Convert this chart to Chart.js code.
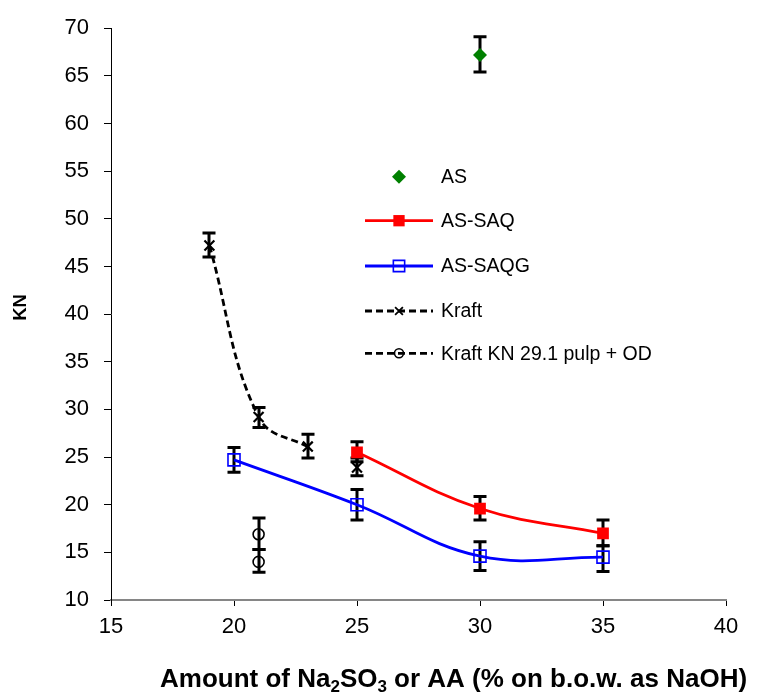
<!DOCTYPE html>
<html><head><meta charset="utf-8">
<script src="https://cdn.jsdelivr.net/npm/chart.js@4"></script>
<style>html,body{margin:0;padding:0;background:#fff}#wrap{width:764px;height:692px;position:relative}</style>
</head><body><div id="wrap"><canvas id="c" width="764" height="692"></canvas></div>
<script>
// ---- data ----
const xTickValues = [15, 20, 25, 30, 35, 40];
const yTickValues = [10, 15, 20, 25, 30, 35, 40, 45, 50, 55, 60, 65, 70];

const seriesLabels = ['AS', 'AS-SAQ', 'AS-SAQG', 'Kraft', 'Kraft KN 29.1 pulp + OD'];

const asX = [30];
const asY = [67.2];
const asLo = [65.4];
const asHi = [69.1];

const saqX = [25, 30, 35];
const saqY = [25.5, 19.6, 17.0];
const saqLo = [24.5, 18.4, 15.7];
const saqHi = [26.6, 20.85, 18.4];

const saqgX = [20, 25, 30, 35];
const saqgY = [24.7, 20.0, 14.6, 14.5];
const saqgLo = [23.4, 18.4, 13.1, 13.0];
const saqgHi = [26.0, 21.6, 16.1, 15.7];

const kraftX = [19, 21, 23, 25];
const kraftY = [47.2, 29.2, 26.1, 23.9];
const kraftLo = [46.0, 28.1, 24.9, 23.05];
const kraftHi = [48.5, 30.2, 27.4, 24.9];

const odX = [21, 21];
const odY = [16.9, 14.0];
const odLo = [15.3, 12.9];
const odHi = [18.6, 15.3];

const yTitle = 'KN';
const xTitleParts = [
  {t: 'Amount of Na', sub: false},
  {t: '2', sub: true},
  {t: 'SO', sub: false},
  {t: '3', sub: true},
  {t: ' or AA (% on b.o.w. as NaOH)', sub: false}
];

// ---- helpers ----
const pts = (xs, ys) => xs.map((x, i) => ({x: x, y: ys[i]}));
const FONT = '"Liberation Sans", Arial, sans-serif';

const errorData = [
  [asLo, asHi], [saqLo, saqHi], [saqgLo, saqgHi], [kraftLo, kraftHi], [odLo, odHi]
];

const datasets = [
  {label: seriesLabels[0], data: pts(asX, asY), showLine: false,
   pointStyle: 'rectRot', pointRadius: 7, backgroundColor: '#008000', borderColor: '#008000', pointBorderWidth: 0},
  {label: seriesLabels[1], data: pts(saqX, saqY), showLine: true, tension: 0.4,
   borderColor: '#ff0000', borderWidth: 2.8, pointStyle: 'rect', pointRadius: 8.3,
   pointBackgroundColor: '#ff0000', pointBorderColor: '#ff0000', pointBorderWidth: 0},
  {label: seriesLabels[2], data: pts(saqgX, saqgY), showLine: true, tension: 0.4,
   borderColor: '#0000ff', borderWidth: 2.8, pointStyle: 'rect', pointRadius: 8.5,
   pointBackgroundColor: 'rgba(0,0,0,0)', pointBorderColor: '#0000ff', pointBorderWidth: 1.6},
  {label: seriesLabels[3], data: pts(kraftX, kraftY), showLine: true, tension: 0.4,
   borderColor: '#000', borderWidth: 2.8, borderDash: [7, 4], pointStyle: 'crossRot', pointRadius: 7,
   pointBorderColor: '#000', pointBorderWidth: 2.2,
   segment: {borderColor: ctx => (ctx.p0DataIndex >= 2 ? 'rgba(0,0,0,0)' : undefined)}},
  {label: seriesLabels[4], data: pts(odX, odY), showLine: false,
   borderColor: '#000', borderWidth: 2.8, borderDash: [7, 4], pointStyle: 'circle', pointRadius: 5.5,
   pointBackgroundColor: 'rgba(0,0,0,0)', pointBorderColor: '#000', pointBorderWidth: 1.6}
];

function drawMarker(ctx, style, x, y, r, fill, stroke, bw) {
  ctx.save();
  ctx.beginPath();
  ctx.setLineDash([]);
  if (style === 'rect') {
    const s = r * Math.SQRT1_2;
    ctx.rect(x - s, y - s, 2 * s, 2 * s);
  } else if (style === 'rectRot') {
    ctx.moveTo(x, y - r); ctx.lineTo(x + r, y); ctx.lineTo(x, y + r); ctx.lineTo(x - r, y); ctx.closePath();
  } else if (style === 'circle') {
    ctx.arc(x, y, r, 0, Math.PI * 2);
  } else if (style === 'crossRot') {
    const s = r * Math.SQRT1_2;
    ctx.moveTo(x - s, y - s); ctx.lineTo(x + s, y + s);
    ctx.moveTo(x - s, y + s); ctx.lineTo(x + s, y - s);
  }
  if (fill && style !== 'crossRot') { ctx.fillStyle = fill; ctx.fill(); }
  if (bw > 0) { ctx.strokeStyle = stroke; ctx.lineWidth = bw; ctx.stroke(); }
  ctx.restore();
}

const errorBarPlugin = {
  id: 'errorBars',
  beforeDatasetsDraw(chart) {
    const ctx = chart.ctx, xs = chart.scales.x, ys = chart.scales.y;
    ctx.save();
    ctx.strokeStyle = '#000';
    ctx.lineWidth = 3;
    ctx.setLineDash([]);
    chart.data.datasets.forEach((ds, di) => {
      const [lo, hi] = errorData[di];
      ds.data.forEach((p, i) => {
        const px = Math.round(xs.getPixelForValue(p.x));
        const y1 = ys.getPixelForValue(lo[i]);
        const y2 = ys.getPixelForValue(hi[i]);
        ctx.beginPath();
        ctx.moveTo(px, y1); ctx.lineTo(px, y2);
        ctx.moveTo(px - 6.5, y1); ctx.lineTo(px + 6.5, y1);
        ctx.moveTo(px - 6.5, y2); ctx.lineTo(px + 6.5, y2);
        ctx.stroke();
      });
    });
    ctx.restore();
  }
};

const decorPlugin = {
  id: 'decor',
  afterDraw(chart) {
    const ctx = chart.ctx;
    ctx.save();
    // legend
    const lx0 = 365, lx1 = 433, mx = 399, tx = 441;
    const rows = [176.7, 220.7, 266, 311, 353.3];
    ctx.font = '19.5px ' + FONT;
    ctx.textBaseline = 'middle';
    ctx.textAlign = 'left';
    chart.data.datasets.forEach((ds, i) => {
      const y = rows[i];
      if (i > 0) {
        ctx.save();
        ctx.beginPath();
        ctx.strokeStyle = ds.borderColor;
        ctx.lineWidth = ds.borderWidth;
        ctx.setLineDash(ds.borderDash || []);
        ctx.moveTo(lx0, y); ctx.lineTo(lx1, y);
        ctx.stroke();
        ctx.restore();
      }
      const fill = ds.pointBackgroundColor || ds.backgroundColor;
      const stroke = ds.pointBorderColor || ds.borderColor;
      let r = ds.pointRadius;
      if (i === 1 || i === 2) r = 8;
      if (i === 4) r = 4.5;
      if (i === 3) r = 5.5;
      drawMarker(ctx, ds.pointStyle, mx, y, r, fill, stroke, i === 3 ? 1.8 : ds.pointBorderWidth);
      ctx.fillStyle = '#000';
      ctx.fillText(ds.label, tx, y + 1);
    });
    // y title
    ctx.save();
    ctx.translate(21, 307.5);
    ctx.rotate(-Math.PI / 2);
    ctx.font = 'bold 18.5px ' + FONT;
    ctx.textAlign = 'center';
    ctx.textBaseline = 'middle';
    ctx.fillStyle = '#000';
    ctx.fillText(yTitle, 0, 0);
    ctx.restore();
    // x title with subscripts
    const big = 'bold 26px ' + FONT, small = 'bold 17px ' + FONT;
    let x = 160;
    const base = 687;
    ctx.textAlign = 'left';
    ctx.textBaseline = 'alphabetic';
    ctx.fillStyle = '#000';
    xTitleParts.forEach(p => {
      ctx.font = p.sub ? small : big;
      ctx.fillText(p.t, x, p.sub ? base + 5 : base);
      x += ctx.measureText(p.t).width;
    });
    ctx.restore();
  }
};

new Chart(document.getElementById('c'), {
  type: 'scatter',
  data: {datasets: datasets},
  options: {
    responsive: false,
    animation: false,
    devicePixelRatio: 1,
    layout: {padding: {left: 0, top: 25, right: 38, bottom: 0}},
    plugins: {legend: {display: false}, tooltip: {enabled: false}},
    scales: {
      x: {
        type: 'linear', min: 15, max: 40,
        afterBuildTicks: s => { s.ticks = xTickValues.map(v => ({value: v})); },
        afterFit: s => { s.height = 92; },
        border: {display: true, color: '#868686', width: 2},
        grid: {drawOnChartArea: false, drawTicks: true, tickLength: 6, color: '#000', lineWidth: 1},
        ticks: {color: '#000', font: {family: FONT, size: 22}, padding: 8, maxRotation: 0}
      },
      y: {
        type: 'linear', min: 10, max: 70,
        afterBuildTicks: s => { s.ticks = yTickValues.map(v => ({value: v})); },
        afterFit: s => { s.width = 111; },
        border: {display: true, color: '#000', width: 1},
        grid: {drawOnChartArea: false, drawTicks: true, tickLength: 7, color: '#000', lineWidth: 1},
        ticks: {color: '#000', font: {family: FONT, size: 22}, padding: 15}
      }
    }
  },
  plugins: [errorBarPlugin, decorPlugin]
});
</script>
</body></html>
